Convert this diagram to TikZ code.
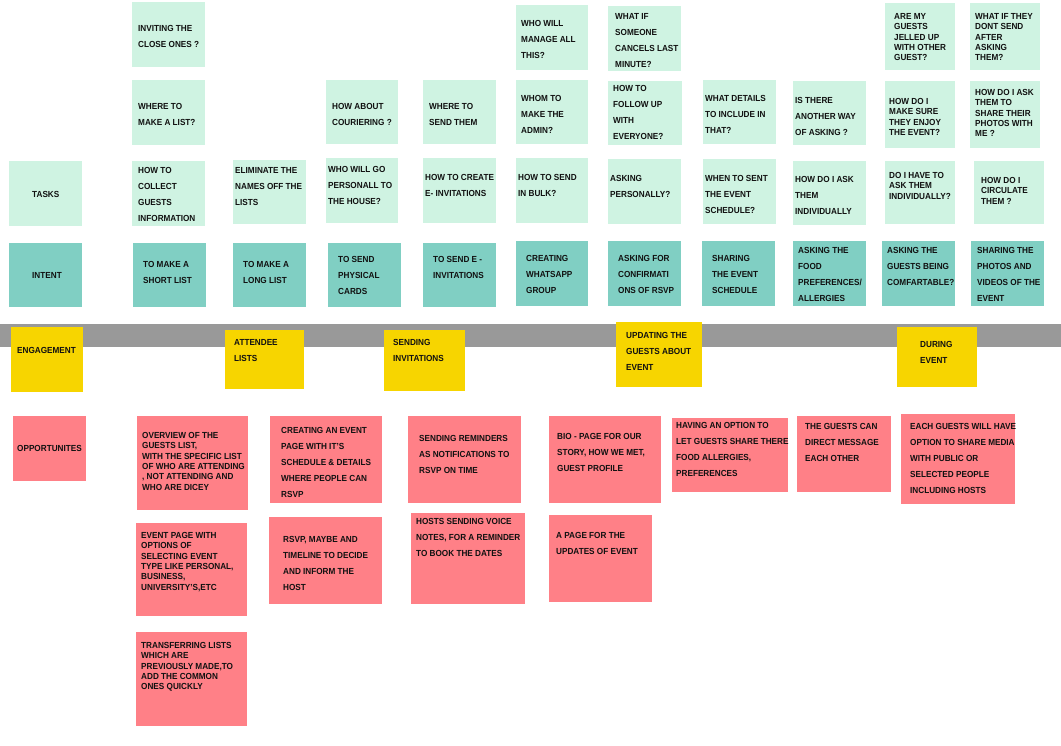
\documentclass[tikz,border=0pt]{standalone}
\usepackage{fontspec}
\setmainfont{Liberation Sans}[FakeStretch=0.93]
\definecolor{mint}{HTML}{CFF3E2}
\definecolor{teal}{HTML}{80CFC3}
\definecolor{yel}{HTML}{F7D500}
\definecolor{pink}{HTML}{FF8087}
\definecolor{bar}{HTML}{999999}
\definecolor{ink}{HTML}{111111}
\tikzset{
  note/.style={rectangle,draw=none,inner sep=0pt,outer sep=0pt},
  txt/.style={anchor=north west,inner sep=0pt,align=left,text=ink,font=\fontsize{8.8}{16}\selectfont\bfseries},
  ttxt/.style={txt,font=\fontsize{8.8}{10.4}\selectfont\bfseries},
}
% name, colour, x1, y1, x2, y2, text x, text top, text
\newcommand\sticky[9]{%
  \node[note,fill=#2,minimum width={(#5-#3)*1pt},minimum height={(#6-#4)*1pt}] (#1) at ({(#3+#5)/2},{(#4+#6)/2}) {};
  \node[txt] (#1t) at (#7,#8) {#9};}
\newcommand\stickyt[9]{%
  \node[note,fill=#2,minimum width={(#5-#3)*1pt},minimum height={(#6-#4)*1pt}] (#1) at ({(#3+#5)/2},{(#4+#6)/2}) {};
  \node[ttxt] (#1t) at (#7,#8) {#9};}
\begin{document}
\begin{tikzpicture}[x=1pt,y=-1pt]
\useasboundingbox (0,0) rectangle (1061,746);
\fill[white] (0,0) rectangle (1061,746);
% row 1
\sticky{qa}{mint}{132}{2}{205}{67}{138}{25}{INVITING THE\\CLOSE ONES ?}
\sticky{qb}{mint}{516}{5}{588}{70}{521}{20}{WHO WILL\\MANAGE ALL\\THIS?}
\sticky{qc}{mint}{608}{6}{681}{71}{615}{13}{WHAT IF\\SOMEONE\\CANCELS LAST\\MINUTE?}
\stickyt{qd}{mint}{885}{3}{955}{70}{894}{13}{ARE MY\\GUESTS\\JELLED UP\\WITH OTHER\\GUEST?}
\stickyt{qe}{mint}{970}{3}{1040}{70}{975}{13}{WHAT IF THEY\\DONT SEND\\AFTER\\ASKING\\THEM?}
% row 2
\sticky{ra}{mint}{132}{80}{205}{145}{138}{103}{WHERE TO\\MAKE A LIST?}
\sticky{rb}{mint}{326}{80}{398}{144}{332}{103}{HOW ABOUT\\COURIERING ?}
\sticky{rc}{mint}{423}{80}{496}{144}{429}{103}{WHERE TO\\SEND THEM}
\sticky{rd}{mint}{516}{80}{588}{144}{521}{95}{WHOM TO\\MAKE THE\\ADMIN?}
\sticky{re}{mint}{608}{81}{682}{145}{613}{85}{HOW TO\\FOLLOW UP\\WITH\\EVERYONE?}
\sticky{rf}{mint}{703}{80}{776}{144}{705}{95}{WHAT DETAILS\\TO INCLUDE IN\\THAT?}
\sticky{rg}{mint}{793}{81}{866}{145}{795}{97}{IS THERE\\ANOTHER WAY\\OF ASKING ?}
\stickyt{rh}{mint}{885}{81}{955}{148}{889}{98}{HOW DO I\\MAKE SURE\\THEY ENJOY\\THE EVENT?}
\stickyt{ri}{mint}{970}{81}{1040}{148}{975}{89}{HOW DO I ASK\\THEM TO\\SHARE THEIR\\PHOTOS WITH\\ME ?}
% row 3 tasks
\sticky{tasks}{mint}{9}{161}{82}{226}{32}{191}{TASKS}
\sticky{sa}{mint}{132}{161}{205}{226}{138}{167}{HOW TO\\COLLECT\\GUESTS\\INFORMATION}
\sticky{sb}{mint}{233}{160}{306}{224}{235}{167}{ELIMINATE THE\\NAMES OFF THE\\LISTS}
\sticky{sc}{mint}{326}{158}{398}{223}{328}{166}{WHO WILL GO\\PERSONALL TO\\THE HOUSE?}
\sticky{sd}{mint}{423}{158}{496}{223}{425}{174}{HOW TO CREATE\\E- INVITATIONS}
\sticky{se}{mint}{516}{158}{588}{223}{518}{174}{HOW TO SEND\\IN BULK?}
\sticky{sf}{mint}{608}{159}{681}{224}{610}{175}{ASKING\\PERSONALLY?}
\sticky{sg}{mint}{703}{159}{776}{224}{705}{175}{WHEN TO SENT\\THE EVENT\\SCHEDULE?}
\sticky{sh}{mint}{793}{161}{866}{225}{795}{176}{HOW DO I ASK\\THEM\\INDIVIDUALLY}
\stickyt{si}{mint}{885}{161}{955}{224}{889}{172}{DO I HAVE TO\\ASK THEM\\INDIVIDUALLY?}
\stickyt{sj}{mint}{974}{161}{1044}{224}{981}{177}{HOW DO I\\CIRCULATE\\THEM ?}
% intent row
\sticky{intent}{teal}{9}{243}{82}{307}{32}{272}{INTENT}
\sticky{ia}{teal}{133}{243}{206}{307}{143}{261}{TO MAKE A\\SHORT LIST}
\sticky{ib}{teal}{233}{243}{306}{307}{243}{261}{TO MAKE A\\LONG LIST}
\sticky{ic}{teal}{328}{243}{401}{307}{338}{256}{TO SEND\\PHYSICAL\\CARDS}
\sticky{id}{teal}{423}{243}{496}{307}{433}{256}{TO SEND E -\\INVITATIONS}
\sticky{ie}{teal}{516}{241}{588}{306}{526}{255}{CREATING\\WHATSAPP\\GROUP}
\sticky{if}{teal}{608}{241}{681}{306}{618}{255}{ASKING FOR\\CONFIRMATI\\ONS OF RSVP}
\sticky{ig}{teal}{702}{241}{775}{306}{712}{255}{SHARING\\THE EVENT\\SCHEDULE}
\sticky{ih}{teal}{793}{241}{866}{306}{798}{247}{ASKING THE\\FOOD\\PREFERENCES/\\ALLERGIES}
\sticky{ii}{teal}{882}{241}{955}{306}{887}{247}{ASKING THE\\GUESTS BEING\\COMFARTABLE?}
\sticky{ij}{teal}{971}{241}{1044}{306}{977}{247}{SHARING THE\\PHOTOS AND\\VIDEOS OF THE\\EVENT}
% grey bar
\node[note,fill=bar,minimum width=1061pt,minimum height=23pt] (greybar) at (530.5,335.5) {};
% engagement row
\sticky{ea}{yel}{11}{327}{83}{392}{17}{347}{ENGAGEMENT}
\sticky{eb}{yel}{225}{330}{304}{389}{234}{339}{ATTENDEE\\LISTS}
\sticky{ec}{yel}{384}{330}{465}{391}{393}{339}{SENDING\\INVITATIONS}
\sticky{ed}{yel}{616}{322}{702}{387}{626}{332}{UPDATING THE\\GUESTS ABOUT\\EVENT}
\sticky{ee}{yel}{897}{327}{977}{387}{920}{341}{DURING\\EVENT}
% opportunities
\sticky{opp}{pink}{13}{416}{86}{481}{17}{445}{OPPORTUNITES}
\stickyt{pa}{pink}{137}{416}{248}{510}{142}{432}{OVERVIEW OF THE\\GUESTS LIST,\\WITH THE SPECIFIC LIST\\OF WHO ARE ATTENDING\\, NOT ATTENDING AND\\WHO ARE DICEY}
\sticky{pb}{pink}{270}{416}{382}{503}{281}{427}{CREATING AN EVENT\\PAGE WITH IT'S\\SCHEDULE \& DETAILS\\WHERE PEOPLE CAN\\RSVP}
\sticky{pc}{pink}{408}{416}{521}{503}{419}{435}{SENDING REMINDERS\\AS NOTIFICATIONS TO\\RSVP ON TIME}
\sticky{pd}{pink}{549}{416}{661}{503}{557}{433}{BIO - PAGE FOR OUR\\STORY, HOW WE MET,\\GUEST PROFILE}
\sticky{pe}{pink}{672}{418}{788}{492}{676}{422}{HAVING AN OPTION TO\\LET GUESTS SHARE THERE\\FOOD ALLERGIES,\\PREFERENCES}
\sticky{pf}{pink}{797}{416}{891}{492}{805}{423}{THE GUESTS CAN\\DIRECT MESSAGE\\EACH OTHER}
\sticky{pg}{pink}{901}{414}{1015}{504}{910}{423}{EACH GUESTS WILL HAVE\\OPTION TO SHARE MEDIA\\WITH PUBLIC OR\\SELECTED PEOPLE\\INCLUDING HOSTS}
\stickyt{ph}{pink}{136}{523}{247}{616}{141}{532}{EVENT PAGE WITH\\OPTIONS OF\\SELECTING EVENT\\TYPE LIKE PERSONAL,\\BUSINESS,\\UNIVERSITY'S,ETC}
\sticky{pi}{pink}{269}{517}{382}{604}{283}{536}{RSVP, MAYBE AND\\TIMELINE TO DECIDE\\AND INFORM THE\\HOST}
\sticky{pj}{pink}{411}{513}{525}{604}{416}{518}{HOSTS SENDING VOICE\\NOTES, FOR A REMINDER\\TO BOOK THE DATES}
\sticky{pk}{pink}{549}{515}{652}{602}{556}{532}{A PAGE FOR THE\\UPDATES OF EVENT}
\stickyt{pl}{pink}{136}{632}{247}{726}{141}{642}{TRANSFERRING LISTS\\WHICH ARE\\PREVIOUSLY MADE,TO\\ADD THE COMMON\\ONES QUICKLY}
\end{tikzpicture}
\end{document}
